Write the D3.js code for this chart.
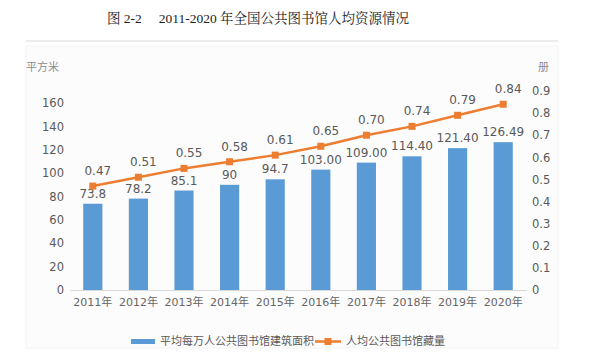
<!DOCTYPE html>
<html>
<head>
<meta charset="utf-8">
<script src="https://cdn.jsdelivr.net/npm/d3@7"></script>
<style>
  body{margin:0;background:#fff;}
  text{font-family:"DejaVu Sans","Noto Sans CJK SC",sans-serif;}
</style>
</head>
<body>
<svg id="chart" width="596" height="363"></svg>
<script>
// data
var years=["2011年","2012年","2013年","2014年","2015年","2016年","2017年","2018年","2019年","2020年"];
var areaValues=[73.8,78.2,85.1,90,94.7,103.00,109.00,114.40,121.40,126.49];
var areaLabels=["73.8","78.2","85.1","90","94.7","103.00","109.00","114.40","121.40","126.49"];
var bookValues=[0.47,0.51,0.55,0.58,0.61,0.65,0.70,0.74,0.79,0.84];
var bookLabels=["0.47","0.51","0.55","0.58","0.61","0.65","0.70","0.74","0.79","0.84"];
var leftTicks=[0,20,40,60,80,100,120,140,160];
var rightTicks=[0,0.1,0.2,0.3,0.4,0.5,0.6,0.7,0.8,0.9];

var svg=d3.select("#chart");
var grey="#595959", blue="#5b9bd5", orange="#ed7d31";

// title
svg.append("text")
  .attr("x",107).attr("y",23)
  .style("font-family","'Liberation Serif','Noto Serif CJK SC','Noto Sans CJK SC',serif")
  .attr("font-size","13.5px").attr("fill","#222")
  .text("图 2-2\u2003 2011-2020 年全国公共图书馆人均资源情况");

// separator line and faint chart box
svg.append("line").attr("x1",26).attr("x2",558).attr("y1",41).attr("y2",41)
  .attr("stroke","#d9d9d9").attr("stroke-width",1);
svg.append("rect").attr("x",26).attr("y",46).attr("width",532).attr("height",302)
  .attr("fill","#fcfcfc").attr("stroke","#f4f4f4");

var xScale=d3.scaleBand().domain(years).range([70,526]).paddingInner(0.58).paddingOuter(0.29);
var yLeft=d3.scaleLinear().domain([0,160]).range([290,103]);
var yRight=d3.scaleLinear().domain([0,0.9]).range([290,91]);

// left axis
var gl=svg.append("g").attr("transform","translate(64,0)")
  .call(d3.axisLeft(yLeft).tickValues(leftTicks).tickSize(0).tickPadding(0));
gl.select(".domain").remove();
gl.selectAll("text").attr("fill",grey).attr("font-size","11.5px").style("font-family","'DejaVu Sans',sans-serif");

// right axis
var gr=svg.append("g").attr("transform","translate(532,0)")
  .call(d3.axisRight(yRight).tickValues(rightTicks).tickSize(0).tickPadding(0)
    .tickFormat(function(d){return d===0?"0":d3.format(".1f")(d);}));
gr.select(".domain").remove();
gr.selectAll("text").attr("fill",grey).attr("font-size","11.5px").style("font-family","'DejaVu Sans',sans-serif");

// axis unit labels
svg.append("text").attr("x",26).attr("y",71).attr("font-size","11px").attr("fill","#8c8c8c")
  .style("font-family","'Noto Sans CJK SC',sans-serif").text("平方米");
svg.append("text").attr("x",538).attr("y",71).attr("font-size","11px").attr("fill","#8c8c8c")
  .style("font-family","'Noto Sans CJK SC',sans-serif").text("册");

// bottom axis
var gx=svg.append("g").attr("transform","translate(0,290)")
  .call(d3.axisBottom(xScale).tickSize(0).tickPadding(8).tickSizeOuter(0));
gx.select(".domain").attr("stroke","#d9d9d9");
gx.selectAll("text").attr("fill","#666").attr("font-size","11px")
  .style("font-family","'DejaVu Sans','Noto Sans CJK SC',sans-serif");

// bars
svg.selectAll(".bar").data(areaValues).enter().append("rect")
  .attr("class","bar")
  .attr("x",function(d,i){return xScale(years[i]);})
  .attr("y",function(d){return yLeft(d);})
  .attr("width",xScale.bandwidth())
  .attr("height",function(d){return 290-yLeft(d);})
  .attr("fill",blue);

// bar labels
svg.selectAll(".blabel").data(areaValues).enter().append("text")
  .attr("x",function(d,i){return xScale(years[i])+xScale.bandwidth()/2;})
  .attr("y",function(d){return yLeft(d)-6;})
  .attr("text-anchor","middle").attr("font-size","12px").attr("fill",grey)
  .text(function(d,i){return areaLabels[i];});

// line
var line=d3.line()
  .x(function(d,i){return xScale(years[i])+xScale.bandwidth()/2;})
  .y(function(d){return yRight(d);});
svg.append("path").datum(bookValues).attr("d",line)
  .attr("fill","none").attr("stroke",orange).attr("stroke-width",2.5);
svg.selectAll(".marker").data(bookValues).enter().append("rect")
  .attr("x",function(d,i){return xScale(years[i])+xScale.bandwidth()/2-3.5;})
  .attr("y",function(d){return yRight(d)-3.5;})
  .attr("width",7).attr("height",7).attr("fill",orange);
svg.selectAll(".llabel").data(bookValues).enter().append("text")
  .attr("x",function(d,i){return xScale(years[i])+xScale.bandwidth()/2+5;})
  .attr("y",function(d){return yRight(d)-11;})
  .attr("text-anchor","middle").attr("font-size","12px").attr("fill",grey)
  .text(function(d,i){return bookLabels[i];});

// legend
var lg=svg.append("g");
lg.append("rect").attr("x",131).attr("y",339).attr("width",24).attr("height",5).attr("fill",blue);
lg.append("text").attr("x",160).attr("y",345).attr("font-size","11px").attr("fill",grey)
  .style("font-family","'Noto Sans CJK SC',sans-serif").text("平均每万人公共图书馆建筑面积");
lg.append("line").attr("x1",315).attr("x2",341).attr("y1",341.5).attr("y2",341.5)
  .attr("stroke",orange).attr("stroke-width",2.5);
lg.append("rect").attr("x",324.5).attr("y",338).attr("width",7).attr("height",7).attr("fill",orange);
lg.append("text").attr("x",346).attr("y",345).attr("font-size","11px").attr("fill",grey)
  .style("font-family","'Noto Sans CJK SC',sans-serif").text("人均公共图书馆藏量");
</script>
</body>
</html>
